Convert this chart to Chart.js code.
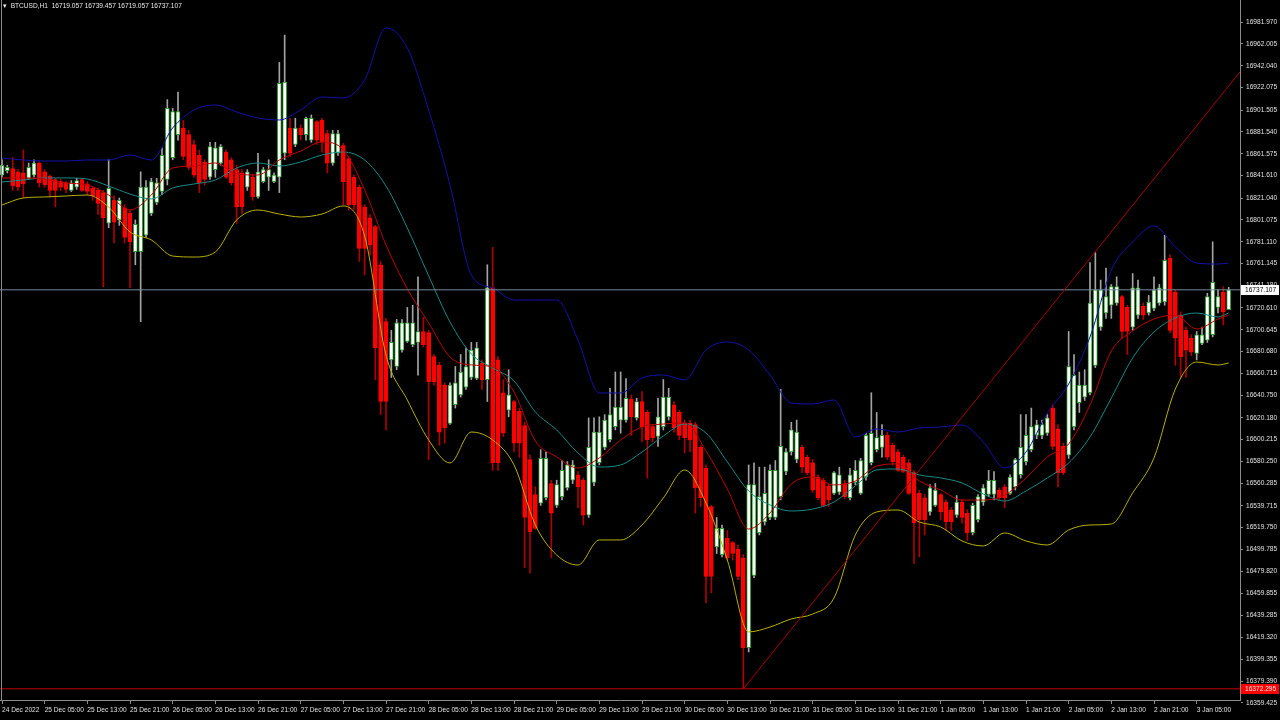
<!DOCTYPE html>
<html>
<head>
<meta charset="utf-8">
<title>BTCUSD,H1</title>
<script src="https://cdn.jsdelivr.net/npm/chart.js@4.4.1/dist/chart.umd.min.js"></script>
<style>
  html, body { margin: 0; padding: 0; background: #000; }
  #wrap { position: relative; width: 1280px; height: 720px; }
  #header {
    position: absolute; left: 3px; top: 2px;
    color: #e8e8e8; white-space: pre;
    font: 6.6px "Liberation Sans", sans-serif;
  }
</style>
</head>
<body>
<div id="wrap">
  <canvas id="chart" width="1280" height="720"></canvas>
  <div id="header">▾  BTCUSD,H1  16719.057 16739.457 16719.057 16737.107</div>
</div>
<script>
// H1 candles, index 0 = 24 Dec 2022 21:00
const timeLabels = [
  "24 Dec 2022", "25 Dec 05:00", "25 Dec 13:00", "25 Dec 21:00", "26 Dec 05:00", "26 Dec 13:00",
  "26 Dec 21:00", "27 Dec 05:00", "27 Dec 13:00", "27 Dec 21:00", "28 Dec 05:00", "28 Dec 13:00",
  "28 Dec 21:00", "29 Dec 05:00", "29 Dec 13:00", "29 Dec 21:00", "30 Dec 05:00", "30 Dec 13:00",
  "30 Dec 21:00", "31 Dec 05:00", "31 Dec 13:00", "31 Dec 21:00", "1 Jan 05:00", "1 Jan 13:00",
  "1 Jan 21:00", "2 Jan 05:00", "2 Jan 13:00", "2 Jan 21:00", "3 Jan 05:00",
];
const timeTickIdx = [
  0, 8, 16, 24, 32, 40, 48, 56, 64, 72, 80, 88, 96, 104, 112,
  120, 128, 136, 144, 152, 160, 168, 176, 184, 192, 200, 208, 216, 224,
];
const priceTicks = [
  16981.970, 16962.005, 16942.040, 16922.075, 16901.505, 16881.540, 16861.575, 16841.610,
  16821.040, 16801.075, 16781.110, 16761.145, 16741.180, 16720.610, 16700.645, 16680.680,
  16660.715, 16640.750, 16620.180, 16600.215, 16580.250, 16560.285, 16539.715, 16519.750,
  16499.785, 16479.820, 16459.855, 16439.285, 16419.320, 16399.355, 16379.390, 16359.425,
];

const opens = [
  16842, 16846, 16848, 16845, 16844, 16839, 16842, 16853, 16845, 16841,
  16838, 16836, 16835, 16828, 16831, 16838, 16834, 16830, 16828, 16826,
  16798, 16819, 16801, 16812, 16807, 16772, 16772, 16787, 16807, 16817,
  16827, 16838, 16858, 16879, 16885, 16879, 16870, 16860, 16854, 16840,
  16847, 16853, 16863, 16856, 16847, 16844, 16831, 16840, 16822, 16836,
  16840, 16836, 16840, 16862, 16885, 16870, 16885, 16879, 16874, 16891,
  16892, 16880, 16853, 16862, 16869, 16857, 16840, 16831, 16813, 16803,
  16795, 16760, 16708, 16673, 16667, 16682, 16690, 16687, 16689, 16699,
  16698, 16676, 16668, 16650, 16615, 16632, 16641, 16648, 16657, 16656,
  16670, 16655, 16739, 16673, 16643, 16627, 16635, 16626, 16613, 16582,
  16550, 16542, 16547, 16560, 16540, 16548, 16556, 16563, 16568, 16563,
  16531, 16561, 16579, 16593, 16600, 16612, 16618, 16618, 16637, 16620,
  16635, 16625, 16612, 16603, 16612, 16621, 16632, 16625, 16615, 16615,
  16614, 16593, 16574, 16539, 16502, 16495, 16510, 16506, 16500, 16492,
  16410, 16476, 16515, 16525, 16529, 16529, 16548, 16571, 16589, 16582,
  16593, 16584, 16579, 16566, 16563, 16558, 16551, 16552, 16560, 16547,
  16561, 16551, 16566, 16579, 16591, 16593, 16604, 16595, 16589, 16584,
  16579, 16570, 16551, 16547, 16534, 16540, 16550, 16543, 16536, 16531,
  16543, 16533, 16515, 16527, 16543, 16550, 16550, 16554, 16557, 16551,
  16557, 16568, 16580, 16591, 16604, 16604, 16606, 16629, 16610, 16594,
  16586, 16612, 16634, 16639, 16643, 16668, 16703, 16716, 16723, 16725,
  16731, 16721, 16703, 16714, 16722, 16716, 16720, 16725, 16726, 16766,
  16735, 16714, 16700, 16693, 16679, 16688, 16691, 16696, 16721, 16735,
  16719.057,
];
const highs = [
  16856, 16851, 16858, 16847, 16865, 16853, 16856, 16854, 16847, 16842,
  16839, 16838, 16836, 16837, 16839, 16839, 16836, 16831, 16830, 16828,
  16856, 16823, 16821, 16815, 16810, 16801, 16845, 16837, 16839, 16839,
  16867, 16911, 16903, 16918, 16892, 16883, 16874, 16865, 16856, 16872,
  16872, 16870, 16865, 16858, 16851, 16847, 16847, 16843, 16862, 16849,
  16856, 16844, 16945, 16970, 16894, 16894, 16888, 16895, 16897, 16892,
  16894, 16883, 16883, 16883, 16871, 16859, 16842, 16833, 16815, 16806,
  16796, 16763, 16711, 16700, 16710, 16710, 16721, 16723, 16749, 16712,
  16700, 16678, 16671, 16652, 16652, 16667, 16678, 16684, 16689, 16689,
  16673, 16760, 16776, 16676, 16655, 16664, 16636, 16629, 16616, 16586,
  16557, 16591, 16589, 16563, 16563, 16581, 16580, 16581, 16571, 16565,
  16620, 16620, 16621, 16623, 16647, 16662, 16662, 16656, 16641, 16638,
  16644, 16627, 16614, 16638, 16655, 16647, 16635, 16627, 16618, 16618,
  16616, 16595, 16577, 16540, 16529, 16522, 16517, 16507, 16504, 16495,
  16577, 16579, 16575, 16575, 16577, 16581, 16646, 16592, 16616, 16618,
  16595, 16586, 16582, 16568, 16565, 16560, 16571, 16575, 16563, 16574,
  16581, 16583, 16606, 16643, 16625, 16614, 16607, 16597, 16591, 16586,
  16582, 16572, 16554, 16550, 16559, 16560, 16551, 16545, 16538, 16549,
  16545, 16536, 16542, 16550, 16559, 16572, 16571, 16556, 16559, 16568,
  16583, 16623, 16623, 16629, 16618, 16618, 16623, 16632, 16614, 16597,
  16699, 16678, 16662, 16664, 16762, 16771, 16746, 16757, 16742, 16749,
  16732, 16723, 16752, 16746, 16725, 16732, 16749, 16742, 16787, 16769,
  16737, 16717, 16703, 16696, 16699, 16703, 16734, 16781, 16737, 16740,
  16739.457,
];
const lows = [
  16840, 16844, 16828, 16828, 16821, 16838, 16840, 16831, 16831, 16822,
  16813, 16828, 16826, 16827, 16829, 16827, 16824, 16819, 16806, 16740,
  16794, 16780, 16796, 16780, 16739, 16760, 16708, 16785, 16805, 16815,
  16824, 16833, 16856, 16874, 16856, 16847, 16840, 16826, 16833, 16838,
  16840, 16851, 16839, 16833, 16798, 16807, 16828, 16819, 16821, 16835,
  16828, 16835, 16826, 16856, 16859, 16868, 16874, 16874, 16872, 16870,
  16863, 16844, 16851, 16860, 16815, 16810, 16810, 16763, 16751, 16769,
  16655, 16623, 16609, 16657, 16664, 16680, 16689, 16685, 16659, 16685,
  16582, 16650, 16595, 16597, 16614, 16629, 16639, 16646, 16655, 16655,
  16646, 16635, 16572, 16572, 16603, 16621, 16589, 16584, 16483, 16478,
  16518, 16540, 16545, 16492, 16538, 16545, 16554, 16560, 16538, 16522,
  16529, 16558, 16577, 16591, 16598, 16609, 16606, 16616, 16604, 16618,
  16598, 16565, 16598, 16594, 16609, 16618, 16607, 16600, 16588, 16589,
  16533, 16539, 16451, 16460, 16496, 16493, 16490, 16490, 16472, 16372.3,
  16406, 16474, 16513, 16522, 16527, 16527, 16545, 16568, 16586, 16579,
  16570, 16568, 16552, 16545, 16539, 16539, 16550, 16550, 16546, 16545,
  16559, 16550, 16563, 16577, 16589, 16584, 16582, 16577, 16571, 16570,
  16550, 16487, 16493, 16513, 16531, 16539, 16527, 16517, 16517, 16529,
  16524, 16508, 16513, 16525, 16540, 16548, 16545, 16545, 16538, 16550,
  16554, 16565, 16577, 16589, 16601, 16601, 16604, 16591, 16557, 16568,
  16583, 16609, 16625, 16636, 16641, 16666, 16700, 16711, 16711, 16723,
  16693, 16678, 16700, 16711, 16710, 16714, 16718, 16723, 16723, 16698,
  16668, 16657, 16657, 16677, 16673, 16687, 16689, 16694, 16716, 16705,
  16719.057,
];
const closes = [
  16851, 16849, 16832, 16831, 16834, 16849, 16853, 16835, 16833, 16828,
  16828, 16831, 16829, 16835, 16837, 16828, 16827, 16823, 16816, 16803,
  16830, 16799, 16819, 16785, 16781, 16797, 16831, 16831, 16836, 16835,
  16860, 16903, 16900, 16900, 16859, 16849, 16842, 16835, 16838, 16868,
  16867, 16868, 16840, 16835, 16813, 16813, 16845, 16822, 16845, 16847,
  16847, 16842, 16926, 16927, 16862, 16885, 16879, 16894, 16894, 16874,
  16872, 16853, 16880, 16880, 16836, 16815, 16815, 16775, 16775, 16778,
  16684, 16635, 16635, 16689, 16707, 16707, 16707, 16707, 16699, 16687,
  16653, 16653, 16607, 16611, 16650, 16652, 16662, 16667, 16682, 16684,
  16655, 16739, 16579, 16579, 16606, 16641, 16597, 16597, 16529, 16516,
  16519, 16583, 16583, 16533, 16559, 16572, 16577, 16577, 16557, 16531,
  16593, 16607, 16607, 16618, 16623, 16630, 16630, 16638, 16621, 16635,
  16612, 16600, 16602, 16621, 16639, 16639, 16611, 16604, 16602, 16600,
  16556, 16547, 16475, 16475, 16519, 16519, 16492, 16496, 16475, 16410,
  16559, 16559, 16548, 16551, 16572, 16572, 16594, 16589, 16609, 16607,
  16575, 16570, 16554, 16547, 16540, 16545, 16570, 16568, 16548, 16568,
  16572, 16581, 16604, 16606, 16602, 16604, 16584, 16580, 16572, 16571,
  16551, 16524, 16527, 16527, 16556, 16554, 16534, 16525, 16525, 16543,
  16529, 16515, 16540, 16548, 16556, 16563, 16563, 16547, 16547, 16566,
  16582, 16593, 16604, 16612, 16614, 16614, 16620, 16594, 16570, 16570,
  16667, 16659, 16650, 16650, 16725, 16737, 16737, 16731, 16740, 16740,
  16699, 16699, 16739, 16739, 16714, 16726, 16737, 16739, 16764, 16700,
  16693, 16676, 16682, 16680, 16696, 16696, 16731, 16744, 16731, 16717,
  16737.107,
];

// indicator lines, read every 4 bars
const bandIdx = [
  0, 4, 8, 12, 16, 20, 24, 28, 32, 36, 40, 44, 48, 52, 56, 60, 64, 68, 72, 76,
  80, 84, 88, 92, 96, 100, 104, 108, 112, 116, 120, 124, 128, 132, 136, 140, 144, 148, 152, 156,
  160, 164, 168, 172, 176, 180, 184, 188, 192, 196, 200, 204, 208, 212, 216, 220, 224, 228, 230,
];
const bbUpper = [
  16857.6, 16855.8, 16854.9, 16854.9, 16855.8, 16855.8, 16860.4, 16855.8, 16885.1, 16901.5,
  16906.1, 16899.7, 16894.2, 16892.4, 16901.5, 16913.4, 16912.5, 16929.0, 16976.5, 16958.2,
  16901.5, 16833.0, 16750.7, 16738.8, 16727.8, 16727.8, 16727.8, 16691.2, 16642.8, 16642.8,
  16656.5, 16659.2, 16654.7, 16682.1, 16689.4, 16682.1, 16659.2, 16633.6, 16632.7, 16636.4,
  16602.6, 16609.9, 16607.1, 16610.8, 16611.7, 16613.5, 16598.0, 16574.2, 16588.8, 16624.5,
  16651.0, 16694.0, 16755.2, 16780.8, 16795.5, 16776.3, 16761.6, 16760.7, 16761.6,
];
const bbMiddle = [
  16835.7, 16837.5, 16839.4, 16839.4, 16838.4, 16832.0, 16824.7, 16820.2, 16830.2, 16833.9,
  16837.5, 16848.5, 16853.1, 16850.3, 16854.0, 16860.4, 16863.1, 16855.8, 16832.0, 16793.6,
  16749.8, 16707.7, 16678.4, 16665.6, 16653.8, 16625.4, 16609.0, 16587.9, 16575.1, 16577.0,
  16588.8, 16603.5, 16614.4, 16606.2, 16579.7, 16553.2, 16540.4, 16534.9, 16536.7, 16543.1,
  16557.8, 16572.4, 16573.3, 16567.8, 16565.1, 16560.5, 16550.4, 16544.0, 16553.2, 16565.1,
  16578.8, 16602.6, 16638.2, 16674.8, 16698.6, 16711.4, 16715.9, 16712.3, 16715.9,
];
const bbLower = [
  16814.7, 16821.1, 16822.0, 16822.9, 16823.8, 16812.8, 16790.0, 16782.7, 16768.0, 16767.1,
  16771.7, 16801.0, 16810.1, 16806.4, 16803.7, 16806.4, 16813.8, 16786.3, 16677.5, 16636.4,
  16599.8, 16578.8, 16607.1, 16599.8, 16577.0, 16522.1, 16494.7, 16485.5, 16508.4, 16508.4,
  16522.1, 16546.8, 16572.4, 16542.2, 16490.1, 16424.3, 16428.8, 16436.2, 16440.7, 16455.3,
  16513.0, 16534.0, 16535.8, 16524.8, 16520.3, 16507.5, 16502.9, 16514.8, 16507.5, 16503.8,
  16517.5, 16522.1, 16523.0, 16551.4, 16583.4, 16646.4, 16671.1, 16668.4, 16670.2,
];
const maFast = [
  16839.4, 16839.4, 16838.4, 16834.8, 16833.0, 16823.8, 16810.1, 16823.8, 16848.5, 16850.3,
  16853.1, 16843.0, 16842.1, 16855.8, 16864.0, 16872.3, 16865.0, 16828.4, 16778.1, 16737.9,
  16706.8, 16675.7, 16668.4, 16666.6, 16643.7, 16598.9, 16584.3, 16574.2, 16583.4, 16599.8,
  16611.7, 16614.4, 16615.4, 16589.8, 16555.0, 16518.4, 16533.1, 16559.6, 16566.0, 16558.7,
  16562.3, 16576.0, 16577.9, 16562.3, 16554.1, 16544.9, 16544.9, 16549.5, 16565.1, 16584.3,
  16596.2, 16631.8, 16681.2, 16699.5, 16710.4, 16714.1, 16701.3, 16710.4, 16714.1,
];

const bidPrice = 16737.107;
const lowLinePrice = 16372.295;
const trendIdx = [139, 232.125];
const trendPrice = [16372.295, 16936.3];

const X_MIN = -0.375;
const X_MAX = 232.125;
const Y_MIN = 16362.08;
const Y_MAX = 17002.09;
const FONT = '"Liberation Sans", sans-serif';
const FONT_SIZE = 6.6;

const isUp = opens.map((o, i) => closes[i] >= o);
const wickData = opens.map((_, i) => ({ x: i, y: [lows[i], highs[i]] }));
const bodyData = opens.map((o, i) => ({ x: i, y: [o, closes[i]] }));

function lineSet(values, color, order) {
  return {
    type: "line",
    data: bandIdx.map((x, k) => ({ x, y: values[k] })),
    borderColor: color,
    borderWidth: 1,
    pointRadius: 0,
    cubicInterpolationMode: "monotone",
    order,
  };
}

function hLine(price, color, order) {
  return {
    type: "line",
    data: [{ x: X_MIN, y: price }, { x: X_MAX, y: price }],
    borderColor: color,
    borderWidth: 1,
    pointRadius: 0,
    order,
  };
}

// price boxes on the right axis + left frame line
const priceBoxes = {
  id: "priceBoxes",
  afterDraw(chart) {
    const { ctx, chartArea, scales } = chart;
    ctx.save();
    ctx.strokeStyle = "#8c8c8c";
    ctx.lineWidth = 1;
    ctx.beginPath();
    ctx.moveTo(chartArea.left + 1.5, chartArea.top);
    ctx.lineTo(chartArea.left + 1.5, chartArea.bottom);
    ctx.stroke();

    ctx.font = `${FONT_SIZE}px ${FONT}`;
    ctx.textBaseline = "middle";
    const box = (price, bg, fg) => {
      const py = Math.round(scales.y.getPixelForValue(price));
      ctx.fillStyle = bg;
      ctx.fillRect(chartArea.right + 1, py - 5, 38, 10);
      ctx.fillStyle = fg;
      ctx.fillText(price.toFixed(3), chartArea.right + 5, py + 0.5);
    };
    box(bidPrice, "#ffffff", "#000000");
    box(lowLinePrice, "#ff0000", "#ffe8e8");
    ctx.restore();
  },
};

new Chart(document.getElementById("chart"), {
  type: "bar",
  data: {
    datasets: [
      {
        type: "bar",
        data: wickData,
        grouped: false,
        barThickness: 1,
        backgroundColor: isUp.map((u) => (u ? "#a4a4a4" : "#b00000")),
        borderWidth: 0,
        order: 10,
      },
      {
        type: "bar",
        data: bodyData,
        grouped: false,
        barThickness: 4,
        minBarLength: 1,
        backgroundColor: isUp.map((u) => (u ? "#ffffff" : "#ff0000")),
        borderColor: isUp.map((u) => (u ? "#2fa02f" : "#ff0000")),
        borderWidth: 1,
        borderSkipped: false,
        order: 9,
      },
      lineSet(bbUpper, "#1212a8", 6),
      lineSet(bbLower, "#b8b000", 6),
      lineSet(bbMiddle, "#168a86", 5),
      lineSet(maFast, "#c00000", 4),
      hLine(bidPrice, "#778899", 3),
      hLine(lowLinePrice, "#c00000", 3),
      {
        type: "line",
        data: trendIdx.map((x, k) => ({ x, y: trendPrice[k] })),
        borderColor: "#a80000",
        borderWidth: 1,
        pointRadius: 0,
        order: 2,
      },
    ],
  },
  options: {
    responsive: false,
    devicePixelRatio: 1,
    animation: false,
    events: [],
    layout: { padding: 0 },
    plugins: { legend: { display: false }, tooltip: { enabled: false } },
    scales: {
      x: {
        type: "linear",
        min: X_MIN,
        max: X_MAX,
        offset: false,
        bounds: "data",
        grid: { display: true, offset: false, drawOnChartArea: false, drawTicks: true, tickLength: 4, color: "#8c8c8c" },
        border: { display: true, color: "#8c8c8c" },
        ticks: {
          autoSkip: false,
          maxRotation: 0,
          minRotation: 0,
          align: "start",
          padding: 2,
          color: "#e0e0e0",
          font: { family: FONT, size: FONT_SIZE },
          callback: (v, i) => timeLabels[i],
        },
        afterBuildTicks: (axis) => {
          axis.ticks = timeTickIdx.map((v) => ({ value: v }));
        },
        afterFit: (axis) => {
          axis.height = 20;
          axis.paddingLeft = 0;
          axis.paddingRight = 0;
        },
      },
      y: {
        type: "linear",
        position: "right",
        min: Y_MIN,
        max: Y_MAX,
        bounds: "data",
        grace: 0,
        grid: { display: true, drawOnChartArea: false, drawTicks: true, tickLength: 3, color: "#8c8c8c" },
        border: { display: true, color: "#8c8c8c" },
        ticks: {
          autoSkip: false,
          padding: 3,
          color: "#e0e0e0",
          font: { family: FONT, size: FONT_SIZE },
          callback: (v) => Number(v).toFixed(3),
        },
        afterBuildTicks: (axis) => {
          axis.ticks = priceTicks.map((v) => ({ value: v }));
        },
        afterFit: (axis) => {
          axis.width = 40;
          axis.paddingTop = 0;
          axis.paddingBottom = 0;
        },
      },
    },
  },
  plugins: [priceBoxes],
});
</script>
</body>
</html>
